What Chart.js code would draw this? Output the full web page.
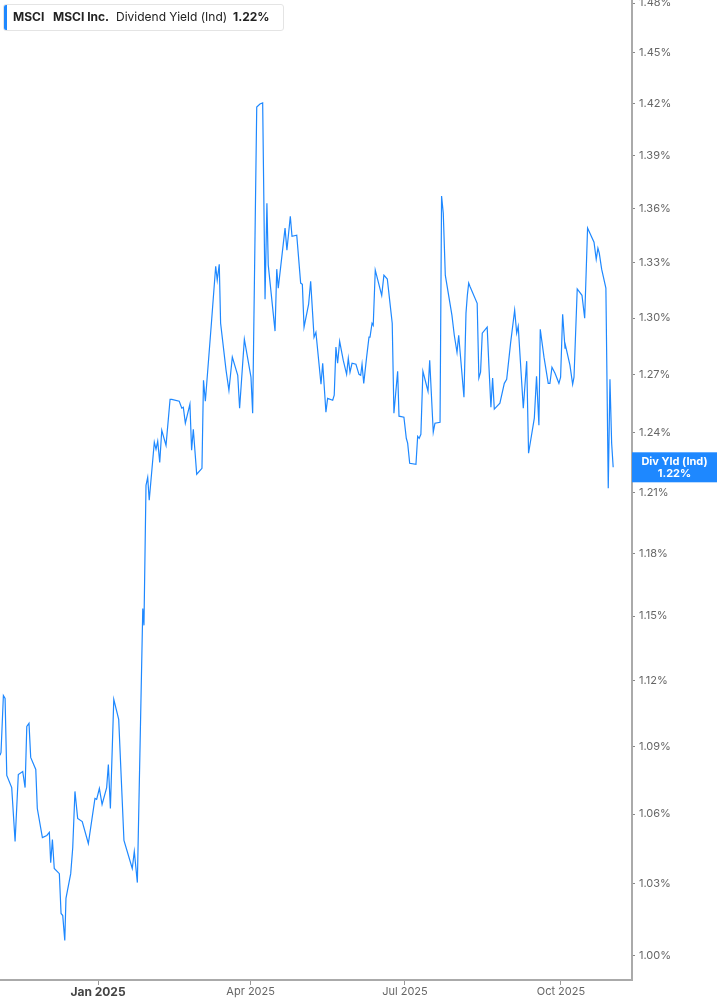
<!DOCTYPE html>
<html>
<head>
<meta charset="utf-8">
<script src="https://cdn.jsdelivr.net/npm/chart.js@4.4.1/dist/chart.umd.min.js"></script>
<style>
body{margin:0;background:#fff;font-family:Inter,"Noto Sans",sans-serif;}
#wrap{position:relative;width:717px;height:1005px;}
#yieldChart{display:block;}
#legend{position:absolute;left:3px;top:4px;width:279px;height:25px;border:1px solid #e4e4e4;border-radius:3px;background:#fff;font-size:12px;line-height:15px;color:#222;}
#legend .bar{position:absolute;left:0;top:0;width:3px;height:100%;background:#1e88ff;border-radius:2px 0 0 2px;}
#legend span{position:absolute;top:4px;white-space:nowrap;}
#legend b{font-weight:700;}
</style>
</head>
<body>
<div id="wrap">
<canvas id="yieldChart" width="717" height="1005"></canvas>
<div id="legend">
  <div class="bar"></div>
  <span style="left:9px"><b>MSCI</b></span>
  <span style="left:49px"><b>MSCI Inc.</b></span>
  <span style="left:112px">Dividend Yield (Ind)</span>
  <span style="left:229px"><b>1.22%</b></span>
</div>
</div>
<script>
// days counted from 1 Jan 2025
const days = [-57.8,-57.2,-55.8,-54.8,-53.8,-50.9,-48.9,-47.0,-44.4,-43.0,-42.0,-40.7,-39.7,-36.7,-35.8,-32.8,-30.2,-28.7,-27.9,-26.9,
-25.8,-22.8,-21.8,-20.8,-19.6,-18.9,-16.1,-14.9,-13.6,-12.0,-9.3,-5.7,-1.8,-0.8,0.8,2.4,5.1,6.1,7.3,9.3,
12.2,15.3,20.2,21.4,23.2,26.4,27.1,28.3,29.3,30.2,33.2,34.2,35.2,36.4,37.6,40.1,42.5,43.5,47.9,49.4,
50.3,51.5,54.2,55.2,56.2,58.2,61.3,62.2,63.3,67.0,69.4,70.3,71.5,72.3,75.5,77.2,79.2,82.4,83.5,86.3,
90.2,91.2,93.6,95.5,97.1,98.5,99.6,100.4,104.4,105.4,106.3,110.3,111.4,113.4,114.4,117.2,119.5,120.5,121.5,124.2,
125.4,127.4,128.5,131.5,132.5,134.4,135.4,138.4,139.3,140.3,141.3,142.5,144.6,146.6,147.6,148.6,149.8,152.1,153.9,154.9,
155.7,156.7,158.4,159.8,160.4,161.6,162.3,163.5,167.3,168.6,170.6,173.5,174.5,176.7,177.5,180.4,181.8,182.6,183.8,187.5,
188.5,189.4,190.4,191.6,194.6,195.6,197.7,198.7,201.7,202.6,203.6,204.8,208.7,210.1,211.7,212.7,215.8,217.0,217.8,218.6,
219.3,223.6,224.6,225.6,226.6,229.5,230.5,231.7,232.7,233.7,237.0,239.6,241.0,243.3,245.7,246.9,247.8,250.8,252.8,253.9,
257.3,258.6,260.0,260.8,263.0,265.5,266.5,267.7,269.5,271.8,272.8,274.0,275.4,275.9,278.3,279.9,280.7,282.6,285.4,287.0,
288.7,292.5,293.8,294.8,295.6,297.0,299.5,300.9,301.9,302.9,303.8];

const yields = [1.0859,1.0872,1.1130,1.1117,1.0770,1.0716,1.0481,1.0774,1.0787,1.0716,1.0989,1.1003,1.0850,1.0796,1.0624,1.0498,1.0507,1.0520,1.0390,1.0489,
1.0365,1.0343,1.0175,1.0166,1.0062,1.0238,1.0343,1.0455,1.0699,1.0581,1.0567,1.0472,1.0668,1.0664,1.0712,1.0642,1.0716,1.0818,1.0624,1.1112,
1.1021,1.0485,1.0365,1.0438,1.0305,1.1536,1.1456,1.2136,1.2176,1.2061,1.2353,1.2317,1.2358,1.2251,1.2414,1.2337,1.2573,1.2573,1.2563,1.2527,
1.2532,1.2450,1.2548,1.2312,1.2419,1.2191,1.2221,1.2672,1.2563,1.2989,1.3281,1.3205,1.3292,1.2973,1.2725,1.2620,1.2793,1.2698,1.2527,1.2888,
1.2688,1.2501,1.4180,1.4198,1.4204,1.3102,1.3630,1.3287,1.2931,1.3265,1.3162,1.3491,1.3369,1.3557,1.3446,1.3452,1.3189,1.3182,1.2952,1.3075,
1.3199,1.2899,1.2925,1.2651,1.2761,1.2506,1.2578,1.2568,1.2594,1.2846,1.2761,1.2877,1.2777,1.2703,1.2787,1.2714,1.2761,1.2756,1.2703,1.2698,
1.2756,1.2656,1.2793,1.2899,1.2899,1.2973,1.2962,1.3260,1.3123,1.3232,1.3211,1.2973,1.2501,1.2719,1.2486,1.2481,1.2373,1.2348,1.2246,1.2241,
1.2383,1.2373,1.2393,1.2719,1.2615,1.2777,1.2404,1.2450,1.2455,1.3670,1.3575,1.3232,1.3016,1.2909,1.2819,1.2909,1.2584,1.3027,1.3123,1.3189,
1.3172,1.3080,1.2683,1.2714,1.2920,1.2952,1.2751,1.2532,1.2683,1.2522,1.2553,1.2656,1.2677,1.2867,1.3043,1.2920,1.2957,1.2527,1.2772,1.2297,
1.2476,1.2693,1.2440,1.2941,1.2793,1.2656,1.2656,1.2740,1.2709,1.2656,1.2688,1.3021,1.2840,1.2846,1.2751,1.2651,1.2688,1.3157,1.3123,1.3000,
1.3491,1.3413,1.3319,1.3380,1.3353,1.3265,1.3162,1.2121,1.2677,1.2348,1.2226];

const xTickDays = [0, 90, 181, 273];
const xTickLabels = ['Jan 2025', 'Apr 2025', 'Jul 2025', 'Oct 2025'];
const yTicks = [1.00,1.03,1.06,1.09,1.12,1.15,1.18,1.21,1.24,1.27,1.30,1.33,1.36,1.39,1.42,1.45,1.48];

const lineBlue = '#1e88ff';

// last value badge on the right axis
const lastBadge = {
  id: 'lastBadge',
  afterDraw(chart) {
    const c = chart.ctx;
    const y = chart.scales.y.getPixelForValue(yields[yields.length - 1]);
    const left = chart.chartArea.right;
    c.save();
    c.fillStyle = lineBlue;
    c.fillRect(left, y - 15, chart.width - left, 30);
    c.fillStyle = '#fff';
    c.textAlign = 'center';
    c.textBaseline = 'middle';
    c.font = 'bold 11px Inter, sans-serif';
    const cx = left + (chart.width - left) / 2;
    c.fillText('Div Yld (Ind)', cx, y - 6);
    c.fillText((yields[yields.length - 1]).toFixed(2) + '%', cx, y + 6);
    c.restore();
  }
};

new Chart(document.getElementById('yieldChart'), {
  type: 'line',
  data: {
    datasets: [{
      data: days.map((d, i) => ({x: d, y: yields[i]})),
      borderColor: lineBlue,
      borderWidth: 1.2,
      pointRadius: 0,
      tension: 0,
      fill: false
    }]
  },
  options: {
    responsive: false,
    animation: false,
    devicePixelRatio: 1,
    layout: {padding: 0},
    plugins: {legend: {display: false}, tooltip: {enabled: false}},
    scales: {
      x: {
        type: 'linear',
        min: -57.8,
        max: 314.9,
        afterBuildTicks: s => { s.ticks = xTickDays.map(v => ({value: v})); },
        afterFit: s => { s.height = 25; s.paddingLeft = 0; s.paddingRight = 0; },
        grid: {drawOnChartArea: false, drawTicks: true, tickLength: 5, color: '#999'},
        border: {display: true, color: '#aaa', width: 2},
        ticks: {
          padding: 0,
          maxRotation: 0,
          color: ctx => ctx.index === 0 ? '#444' : '#666',
          font: ctx => ctx.index === 0 ? {family: 'Inter', size: 12, weight: 'bold'} : {family: 'Inter', size: 11},
          callback: (v) => xTickLabels[xTickDays.indexOf(v)]
        }
      },
      y: {
        type: 'logarithmic',
        position: 'right',
        min: 0.9922,
        max: 1.4819,
        afterBuildTicks: s => { s.ticks = yTicks.map(v => ({value: v})); },
        afterFit: s => { s.width = 85; s.paddingTop = 0; s.paddingBottom = 0; },
        grid: {drawOnChartArea: false, drawTicks: true, tickLength: 3, color: '#888'},
        border: {display: true, color: '#aaa', width: 2},
        ticks: {
          padding: 4,
          color: '#666',
          font: {family: 'Inter', size: 11},
          callback: v => Number(v).toFixed(2) + '%'
        }
      }
    }
  },
  plugins: [lastBadge]
});
</script>
</body>
</html>
